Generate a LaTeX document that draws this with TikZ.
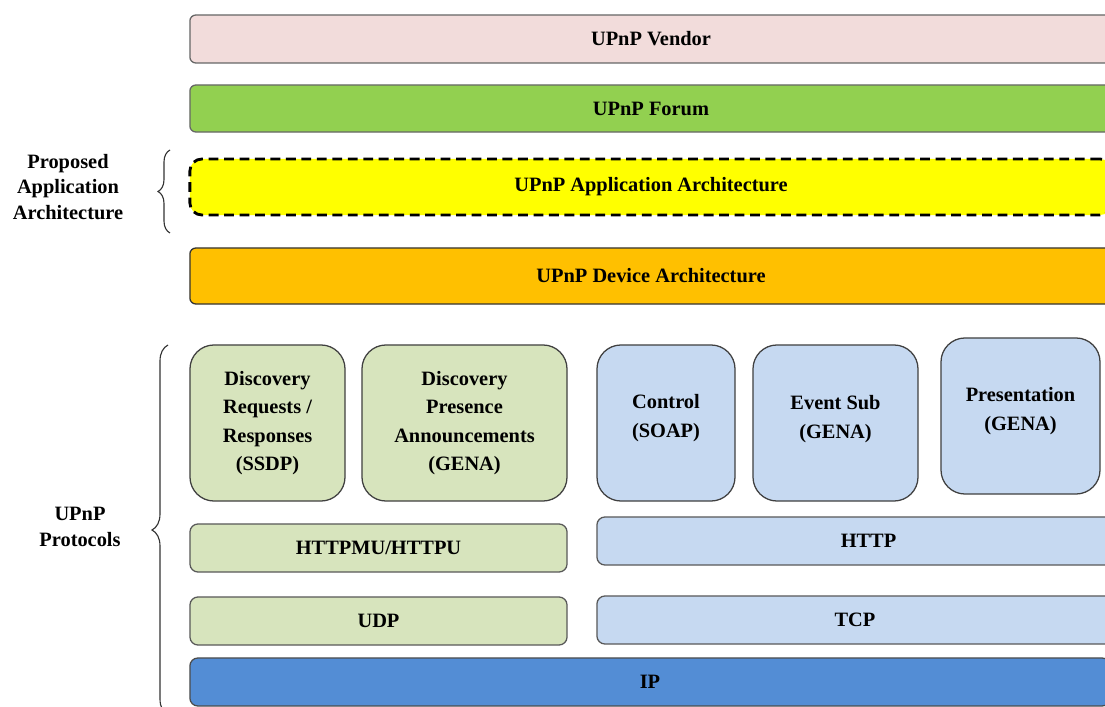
\documentclass[tikz,border=0pt]{standalone}
\usepackage{fontspec}
\setmainfont{Liberation Serif}
\usetikzlibrary{decorations.pathreplacing}

\definecolor{vendorpink}{HTML}{F2DCDB}
\definecolor{forumgreen}{HTML}{92D050}
\definecolor{appyellow}{HTML}{FFFF00}
\definecolor{devorange}{HTML}{FFC000}
\definecolor{discgreen}{HTML}{D7E4BD}
\definecolor{ctrlblue}{HTML}{C6D9F1}
\definecolor{ipblue}{HTML}{538DD5}

\begin{document}
\begin{tikzpicture}[x=0.025cm, y=-0.025cm,
  font=\bfseries\fontsize{14.5}{20}\selectfont,
  layer/.style={draw=black!60, line width=0.9pt, rounded corners=0.15cm,
                minimum width=23.05cm, minimum height=1.2cm, inner sep=0pt},
  proto/.style={draw=black!75, line width=0.9pt, rounded corners=0.6cm,
                minimum height=3.9cm, align=center, inner sep=2pt},
  bar/.style={draw=black!65, line width=0.9pt, rounded corners=0.2cm,
              minimum height=1.2cm, inner sep=0pt},
  sidelabel/.style={align=center, font=\bfseries\fontsize{14.5}{18}\selectfont},
  bracket/.style={decorate, decoration={brace, amplitude=#1}, line width=0.8pt, black!80},
]
\clip (0,0) rectangle (1105,707);

% Top layers
\node[layer, fill=vendorpink] (vendor) at (651,39) {UPnP Vendor};
\node[layer, fill=forumgreen, minimum height=1.175cm] (forum) at (651,108.5) {UPnP Forum};
\node[layer, fill=appyellow, draw=black, line width=2pt, dash pattern=on 7pt off 4pt,
      rounded corners=0.3cm, minimum height=1.4cm] (apparch) at (651,187)
  {UPnP Application Architecture};
\node[layer, fill=devorange, draw=black!80, minimum height=1.4cm] (devarch) at (651,276)
  {UPnP Device Architecture};

% Protocol boxes
\node[proto, fill=discgreen, minimum width=3.875cm] (discreq) at (267.5,423)
  {Discovery\\Requests /\\Responses\\(SSDP)\\[-0.6cm]};
\node[proto, fill=discgreen, minimum width=5.125cm] (discpres) at (464.5,423)
  {Discovery\\Presence\\Announcements\\(GENA)\\[-0.6cm]};
\node[proto, fill=ctrlblue, minimum width=3.45cm] (control) at (666,423)
  {Control\\(SOAP)\\[-0.35cm]};
\node[proto, fill=ctrlblue, minimum width=4.125cm] (eventsub) at (835.5,423)
  {Event Sub\\(GENA)\\[-0.4cm]};
\node[proto, fill=ctrlblue, minimum width=3.975cm] (present) at (1020.5,416)
  {Presentation\\(GENA)\\[-0.35cm]};

% Transport bars
\node[bar, fill=discgreen, minimum width=9.425cm] (httpmu) at (378.5,548) {HTTPMU/HTTPU};
\node[bar, fill=ctrlblue, minimum width=13.575cm] (http) at (868.5,541) {HTTP};
\node[bar, fill=discgreen, minimum width=9.425cm] (udp) at (378.5,621) {UDP};
\node[bar, fill=ctrlblue, minimum width=12.9cm] (tcp) at (855,620) {TCP};
\node[bar, fill=ipblue, draw=black!70, minimum width=23.0cm] (ip) at (650,682) {IP};

% Side labels
\node[sidelabel] (proplabel) at (68,187) {Proposed\\Application\\Architecture};
\node[sidelabel] (protolabel) at (80,527) {UPnP\\Protocols};
\draw[bracket=0.3cm] (170,233) -- (170,150);
\draw[bracket=0.4cm] (168,715) -- (168,345);

\end{tikzpicture}
\end{document}
